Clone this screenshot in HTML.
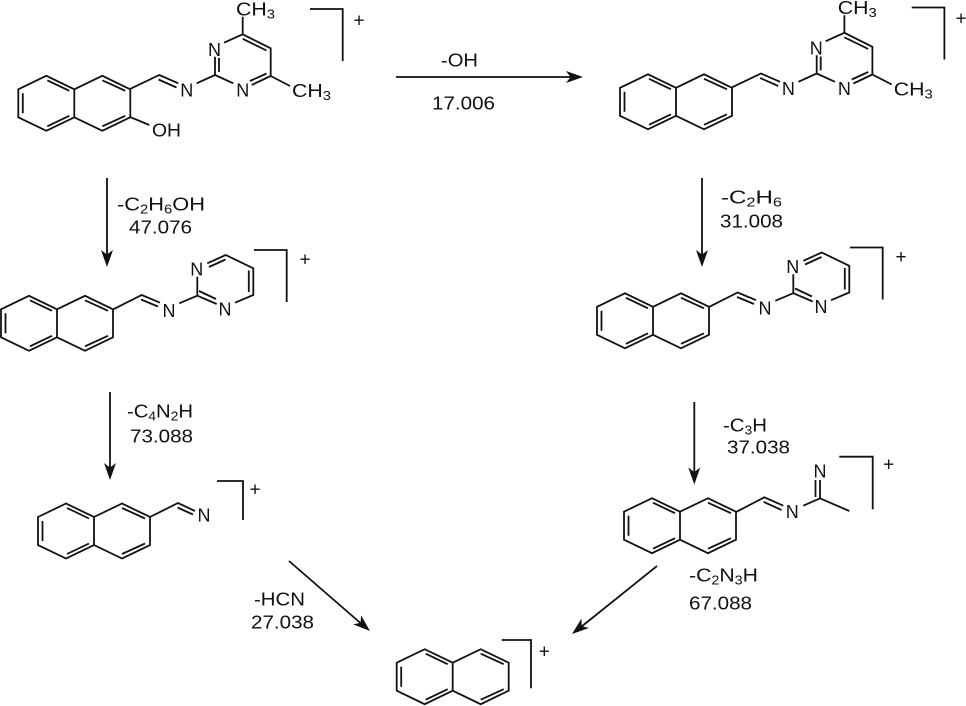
<!DOCTYPE html>
<html><head><meta charset="utf-8"><style>
html,body{margin:0;padding:0;background:#fff;width:966px;height:706px;overflow:hidden}
svg{display:block}
.b{fill:none;stroke:#111;stroke-width:1.8;stroke-linejoin:miter;stroke-linecap:butt}
text{font-family:"Liberation Sans",sans-serif;font-size:18.5px;fill:#111}
.a{font-size:18px;text-anchor:middle}
.p{font-size:19px;text-anchor:middle}
.c{font-size:18px}
</style></head><body>
<svg width="966" height="706" viewBox="0 0 966 706" xmlns="http://www.w3.org/2000/svg">
<defs>
<g id="naph"><path class="b" d="M0 0L28 -13.5L56 0L56 28L28 41.5L0 28ZM56 0L84 -13.5L112 0L112 28L84 41.5L56 28M4.5 4L4.5 24M29 -9L51 1.5M29 37L51 26.5M84 -9L107 1.5M107 26.5L84 37"/></g>
<polygon id="ah" points="0,0 -6,-17 0,-12.5 6,-17" fill="#111"/>
<g id="dimethyl">
<use href="#naph" x="18.3" y="89.3"/>
<path class="b" d="M129.3 89.3L159.3 75L178.3 83.3M158.5 79.5L176.5 87.5M196.7 83.3L215 75L215 56.7M219 72L219 58M215 75L233.3 83.3M251.7 85L270.7 76L270.7 48.3L242.7 34.3L224 42.7M250 81L266.5 73.5M242.7 38.8L266.5 50.5M242.7 34.3L242.7 16.7M270.7 76L290 86"/>
<text class="a" x="186.7" y="96.5">N</text><text class="a" x="214.5" y="56">N</text><text class="a" x="242.7" y="96.5">N</text>
<text class="c" x="236" y="15.5" textLength="39" lengthAdjust="spacingAndGlyphs">CH<tspan font-size="12.5" dy="3">3</tspan></text>
<text class="c" x="292" y="97" textLength="39" lengthAdjust="spacingAndGlyphs">CH<tspan font-size="12.5" dy="3">3</tspan></text>
<path class="b" d="M310 9L342.7 9L342.7 61"/>
</g>
<g id="pyr">
<use href="#naph" x="1" y="309.3"/>
<path class="b" d="M113.3 309.3L141.7 295L160 302.7M141 299.5L158 306.5M179.3 303.3L197.3 295.7L197.3 276.7M197.3 295.7L216.7 304M199 291L216 299M235 302.7L253.3 295L253.3 268.3L225.7 255L207.3 263.3M248.8 292L248.8 270.5M225.5 259.5L209 267"/>
<text class="a" x="169" y="317">N</text><text class="a" x="196.7" y="275.5">N</text><text class="a" x="225" y="315.5">N</text>
<path class="b" d="M254 250L286.7 250L286.7 302"/>
<text class="p" x="305" y="265.5">+</text>
</g>
</defs>

<!-- top-left -->
<use href="#dimethyl"/>
<path class="b" d="M129.3 116.7L149.3 125"/>
<text class="c" x="152" y="136.5" textLength="29" lengthAdjust="spacingAndGlyphs">OH</text>
<text class="p" x="359" y="26.5">+</text>

<!-- top-right -->
<use href="#dimethyl" x="601.7" y="-1.5"/>
<text class="p" x="961" y="24.5">+</text>

<!-- middle -->
<use href="#pyr"/>
<use href="#pyr" x="596" y="-2.5"/>

<!-- lower-left -->
<use href="#naph" x="38" y="517"/>
<path class="b" d="M150 517L178 503L195 511M177.5 507.5L193 514.5M217 481L243 481L243 520"/>
<text class="a" x="204" y="521.5">N</text>
<text class="p" x="255" y="495.5">+</text>

<!-- lower-right -->
<use href="#naph" x="624" y="511.7"/>
<path class="b" d="M736.7 511.7L764.3 497.3L783.3 505.7M763.5 501.8L781.5 510M803.3 505.7L820 498.3L849.3 511M820 498.3L820 480M815.5 497L815.5 480M839.3 456.7L872.7 456.7L872.7 509.3"/>
<text class="a" x="792.3" y="518">N</text><text class="a" x="820" y="477.5">N</text>
<text class="p" x="888.7" y="470.5">+</text>

<!-- bottom -->
<use href="#naph" x="396.7" y="662.7"/>
<path class="b" d="M501.7 640L531 640L531 688.3"/>
<text class="p" x="544.3" y="657.5">+</text>

<!-- arrows -->
<path class="b" d="M396 77L572 77M107 178L107 255M110 392L110 468M702 178L702 255M694.3 402L694.3 472M289 561L361 623.5M657 566L581 627"/>
<use href="#ah" transform="translate(583,77) rotate(-90)"/>
<use href="#ah" transform="translate(107,267)"/>
<use href="#ah" transform="translate(110,480)"/>
<use href="#ah" transform="translate(702,267)"/>
<use href="#ah" transform="translate(694.3,484.5)"/>
<use href="#ah" transform="translate(370,631) rotate(-49)"/>
<use href="#ah" transform="translate(572,634) rotate(51)"/>

<!-- labels -->
<text x="441" y="66.5" textLength="37" lengthAdjust="spacingAndGlyphs">-OH</text>
<text x="432" y="109.5" textLength="63" lengthAdjust="spacingAndGlyphs">17.006</text>
<text x="117" y="210.5" textLength="88" lengthAdjust="spacingAndGlyphs">-C<tspan font-size="12.5" dy="3">2</tspan><tspan dy="-3">H</tspan><tspan font-size="12.5" dy="3">6</tspan><tspan dy="-3">OH</tspan></text>
<text x="129" y="233.5" textLength="63" lengthAdjust="spacingAndGlyphs">47.076</text>
<text x="721" y="203.5" textLength="61" lengthAdjust="spacingAndGlyphs">-C<tspan font-size="12.5" dy="3">2</tspan><tspan dy="-3">H</tspan><tspan font-size="12.5" dy="3">6</tspan></text>
<text x="720" y="227.5" textLength="63" lengthAdjust="spacingAndGlyphs">31.008</text>
<text x="127" y="417.5" textLength="66" lengthAdjust="spacingAndGlyphs">-C<tspan font-size="12.5" dy="3">4</tspan><tspan dy="-3">N</tspan><tspan font-size="12.5" dy="3">2</tspan><tspan dy="-3">H</tspan></text>
<text x="130" y="442.5" textLength="63" lengthAdjust="spacingAndGlyphs">73.088</text>
<text x="723" y="431.5" textLength="44" lengthAdjust="spacingAndGlyphs">-C<tspan font-size="12.5" dy="3">3</tspan><tspan dy="-3">H</tspan></text>
<text x="727" y="453.5" textLength="63" lengthAdjust="spacingAndGlyphs">37.038</text>
<text x="254" y="605.5" textLength="51" lengthAdjust="spacingAndGlyphs">-HCN</text>
<text x="251" y="628.5" textLength="63" lengthAdjust="spacingAndGlyphs">27.038</text>
<text x="689" y="581.5" textLength="69" lengthAdjust="spacingAndGlyphs">-C<tspan font-size="12.5" dy="3">2</tspan><tspan dy="-3">N</tspan><tspan font-size="12.5" dy="3">3</tspan><tspan dy="-3">H</tspan></text>
<text x="689" y="609.5" textLength="63" lengthAdjust="spacingAndGlyphs">67.088</text>
</svg>
</body></html>
